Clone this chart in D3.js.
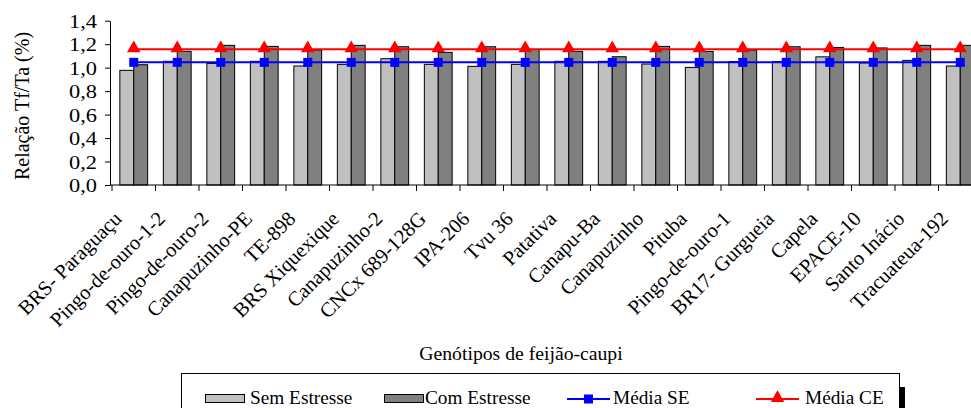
<!DOCTYPE html>
<html>
<head>
<meta charset="utf-8">
<script src="https://cdn.jsdelivr.net/npm/d3@7"></script>
<style>
  html, body { margin: 0; padding: 0; background: #fff; }
  svg { display: block; }
</style>
</head>
<body>
<svg id="chart" width="971" height="408"></svg>
<script>
const categories = ["BRS- Paraguaçu", "Pingo-de-ouro-1-2", "Pingo-de-ouro-2", "Canapuzinho-PE", "TE-898",
  "BRS Xiquexique", "Canapuzinho-2", "CNCx 689-128G", "IPA-206", "Tvu 36", "Patativa", "Canapu-Ba",
  "Canapuzinho", "Pituba", "Pingo-de-ouro-1", "BR17- Gurgueia", "Capela", "EPACE-10", "Santo Inácio", "Tracuateua-192"];
const semEstresse = [0.977, 1.054, 1.036, 1.054, 1.014, 1.028, 1.076, 1.028, 1.011, 1.028,
  1.054, 1.054, 1.031, 1.002, 1.052, 1.052, 1.092, 1.040, 1.062, 1.014];
const comEstresse = [1.025, 1.139, 1.190, 1.181, 1.150, 1.190, 1.178, 1.130, 1.178, 1.155,
  1.139, 1.093, 1.181, 1.138, 1.150, 1.178, 1.172, 1.168, 1.190, 1.190];
const mediaSE = [1.045, 1.045, 1.045, 1.045, 1.045, 1.045, 1.045, 1.045, 1.045, 1.045,
  1.045, 1.045, 1.045, 1.045, 1.045, 1.045, 1.045, 1.045, 1.045, 1.045];
const mediaCE = [1.156, 1.156, 1.156, 1.156, 1.156, 1.156, 1.156, 1.156, 1.156, 1.156,
  1.156, 1.156, 1.156, 1.156, 1.156, 1.156, 1.156, 1.156, 1.156, 1.156];
const yTicks = [0, 0.2, 0.4, 0.6, 0.8, 1.0, 1.2, 1.4];
const yTickLabels = ["0,0", "0,2", "0,4", "0,6", "0,8", "1,0", "1,2", "1,4"];
const seriesNames = ["Sem Estresse", "Com Estresse", "Média SE", "Média CE"];

const FONT = '"Liberation Serif"';
const svg = d3.select("#chart");
const x = d3.scaleBand().domain(categories).range([112, 982]).paddingInner(0).paddingOuter(0);
const xSub = d3.scaleBand().domain(["sem", "com"]).range([0, x.bandwidth()]).paddingInner(0).paddingOuter(0.565);
const y = d3.scaleLinear().domain([0, 1.4]).range([185, 20.7]);

// bars
const g = svg.append("g");
categories.forEach((c, i) => {
  g.append("rect").attr("x", x(c) + xSub("sem")).attr("y", y(semEstresse[i]))
    .attr("width", xSub.bandwidth()).attr("height", y(0) - y(semEstresse[i]))
    .attr("fill", "#c0c0c0").attr("stroke", "#000").attr("stroke-width", 1);
  g.append("rect").attr("x", x(c) + xSub("com")).attr("y", y(comEstresse[i]))
    .attr("width", xSub.bandwidth()).attr("height", y(0) - y(comEstresse[i]))
    .attr("fill", "#808080").attr("stroke", "#000").attr("stroke-width", 1);
});

// y axis
const yAxis = svg.append("g").attr("transform", "translate(110,0)")
  .call(d3.axisLeft(y).tickValues(yTicks).tickFormat((d, i) => yTickLabels[i]).tickSize(5).tickPadding(8).tickSizeOuter(0));
yAxis.attr("font-family", null).attr("font-size", null);
yAxis.selectAll("text").style("font-family", FONT).style("font-size", "19px").attr("dy", "0.34em").attr("fill", "#000")
  .attr("x", -13 / 1.18).attr("transform", "scale(1.18,1)");
yAxis.selectAll("path, line").attr("stroke", "#000");

// x axis
const xAxis = svg.append("g").attr("transform", "translate(0,185)");
xAxis.append("line").attr("x1", 110).attr("x2", 971).attr("y1", 0).attr("y2", 0).attr("stroke", "#000");
categories.forEach((c) => {
  xAxis.append("line").attr("x1", x(c)).attr("x2", x(c)).attr("y1", 0).attr("y2", 6).attr("stroke", "#000");
});
xAxis.selectAll("text.lab").data(categories).enter().append("text")
  .attr("class", "lab")
  .style("font-family", FONT).style("font-size", "20.5px")
  .attr("text-anchor", "end")
  .attr("transform", d => `translate(${x(d) + x.bandwidth() / 2 - 11},35) rotate(-45)`)
  .text(d => d);

// lines
const cx = d => x(d) + x.bandwidth() / 2;
const lineGen = d3.line().x(d => cx(d.c)).y(d => y(d.v));
const seData = categories.map((c, i) => ({ c, v: mediaSE[i] }));
const ceData = categories.map((c, i) => ({ c, v: mediaCE[i] }));
svg.append("path").datum(seData).attr("d", lineGen).attr("fill", "none").attr("stroke", "#0000ff").attr("stroke-width", 2);
svg.append("path").datum(ceData).attr("d", lineGen).attr("fill", "none").attr("stroke", "#ff0000").attr("stroke-width", 2);
const sq = d3.symbol().type(d3.symbolSquare).size(81);
const tri = d3.symbol().type(d3.symbolTriangle).size(80);
svg.selectAll("path.sq").data(seData).enter().append("path").attr("class", "sq")
  .attr("d", sq).attr("transform", d => `translate(${cx(d.c)},${y(d.v)})`).attr("fill", "#0000ff");
svg.selectAll("path.tri").data(ceData).enter().append("path").attr("class", "tri")
  .attr("d", tri).attr("transform", d => `translate(${cx(d.c)},${y(d.v) - 1})`).attr("fill", "#ff0000");

// axis titles
svg.append("text").style("font-family", FONT).style("font-size", "20px").attr("text-anchor", "middle")
  .attr("transform", "translate(29,106) rotate(-90)").text("Relação Tf/Ta (%)");
svg.append("text").style("font-family", FONT).style("font-size", "19.7px").attr("text-anchor", "middle")
  .attr("x", 521).attr("y", 360).text("Genótipos de feijão-caupi");

// legend
const lg = svg.append("g");
lg.append("rect").attr("x", 900).attr("y", 387).attr("width", 5).attr("height", 30).attr("fill", "#000");
lg.append("rect").attr("x", 181.5).attr("y", 373.5).attr("width", 718).attr("height", 40)
  .attr("fill", "#fff").attr("stroke", "#000").attr("stroke-width", 1);
const legendX = [205, 384, 567, 756];
const textX = [250, 425, 613, 805];
seriesNames.forEach((name, i) => {
  if (i < 2) {
    lg.append("rect").attr("x", legendX[i] + 0.5).attr("y", 394.5).attr("width", 39).attr("height", 8)
      .attr("fill", i === 0 ? "#c0c0c0" : "#808080").attr("stroke", "#000");
  } else {
    const col = i === 2 ? "#0000ff" : "#ff0000";
    lg.append("line").attr("x1", legendX[i]).attr("x2", legendX[i] + 43).attr("y1", 399).attr("y2", 399)
      .attr("stroke", col).attr("stroke-width", 2);
    lg.append("path").attr("d", i === 2 ? sq() : tri())
      .attr("transform", `translate(${legendX[i] + 21.5},${i === 2 ? 399 : 398})`).attr("fill", col);
  }
  lg.append("text").attr("x", textX[i]).attr("y", 404).style("font-family", FONT).style("font-size", "19.3px").text(name);
});
</script>
</body>
</html>
